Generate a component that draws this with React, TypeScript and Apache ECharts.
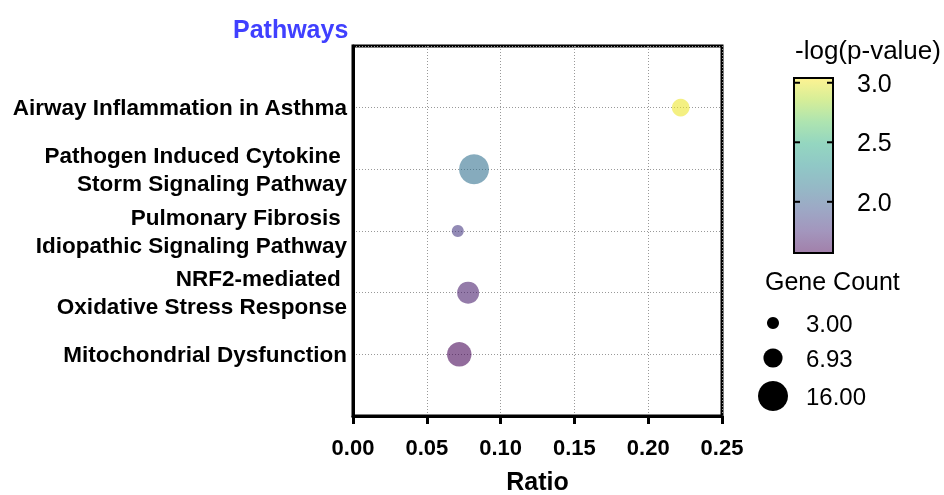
import React, { useEffect, useRef } from "react";
import * as echarts from "echarts";

const categories = [
  "Airway Inflammation in Asthma",
  "Pathogen Induced Cytokine \nStorm Signaling Pathway",
  "Pulmonary Fibrosis \nIdiopathic Signaling Pathway",
  "NRF2-mediated \nOxidative Stress Response",
  "Mitochondrial Dysfunction",
];
const ratios = [0.222, 0.082, 0.071, 0.078, 0.072];
const geneCounts = [6, 16, 3, 9, 11];
const negLogP = [3.0, 2.1, 1.8, 1.68, 1.57];

const legendCounts = [3, 6.93, 16];
const legendLabels = ["3.00", "6.93", "16.00"];
const colorTicks = [3.0, 2.5, 2.0];
const colorMin = 1.57;
const colorMax = 3.04;

const viridis = ["#440154", "#472d7b", "#3b528b", "#2c728e", "#21918c", "#28ae80", "#5ec962", "#addc30", "#fde725"];
const viridisPastel = ["#a280aa", "#a396bd", "#9da8c5", "#95b9c6", "#90c8c6", "#94d6c0", "#aee4b0", "#d6ee98", "#fef392"];

const FONT = "Liberation Sans, Arial, Helvetica, sans-serif";

const sizeOf = (c: number) => 7.94 * Math.sqrt(c) - 1.75;

export default function App() {
  const ref = useRef<HTMLDivElement>(null);
  useEffect(() => {
    document.body.style.margin = "0";
    if (!ref.current) return;
    const chart = echarts.init(ref.current, undefined, { renderer: "svg", width: 944, height: 495 });

    const barX = 794, barY = 78, barW = 39, barH = 175;
    const tickY = (v: number) => barY + ((colorMax - v) / (colorMax - colorMin)) * barH;

    const graphics: any[] = [];
    graphics.push({
      type: "text",
      left: 795,
      top: 37,
      style: { text: "-log(p-value)", font: `26px ${FONT}`, fill: "#000" },
    });
    graphics.push({
      type: "rect",
      shape: { x: barX, y: barY, width: barW, height: barH },
      style: {
        fill: new echarts.graphic.LinearGradient(0, 0, 0, 1,
          viridisPastel.slice().reverse().map((c, i) => ({ offset: i / (viridisPastel.length - 1), color: c }))),
        stroke: "#000",
        lineWidth: 2,
      },
    });
    colorTicks.forEach((v) => {
      const y = tickY(v);
      graphics.push({ type: "line", shape: { x1: barX, y1: y, x2: barX + 6, y2: y }, style: { stroke: "#000", lineWidth: 2 } });
      graphics.push({ type: "line", shape: { x1: barX + barW - 6, y1: y, x2: barX + barW, y2: y }, style: { stroke: "#000", lineWidth: 2 } });
      graphics.push({
        type: "text",
        x: 857,
        y: y,
        style: { text: v.toFixed(1), font: `25px ${FONT}`, fill: "#000", textVerticalAlign: "middle", verticalAlign: "middle" },
      });
    });
    graphics.push({
      type: "text",
      left: 765,
      top: 268,
      style: { text: "Gene Count", font: `25px ${FONT}`, fill: "#000" },
    });
    const legY = [323, 358, 396];
    legendCounts.forEach((c, i) => {
      graphics.push({ type: "circle", shape: { cx: 773, cy: legY[i], r: sizeOf(c) / 2 }, style: { fill: "#000" } });
      graphics.push({
        type: "text",
        x: 806,
        y: legY[i],
        style: { text: legendLabels[i], font: `24px ${FONT}`, fill: "#000", verticalAlign: "middle", textVerticalAlign: "middle" },
      });
    });

    chart.setOption({
      animation: false,
      title: {
        text: "Pathways",
        left: 228,
        top: 11,
        textStyle: { color: "#4040ff", fontSize: 25, fontWeight: "bold", fontFamily: FONT },
      },
      grid: {
        left: 353,
        top: 46,
        width: 369,
        height: 370,
        outerBoundsMode: "none",
        containLabel: false,
        show: true,
        borderColor: "#000",
        borderWidth: 3,
        backgroundColor: "transparent",
      },
      xAxis: {
        type: "value",
        min: 0,
        max: 0.25,
        interval: 0.05,
        position: "bottom",
        name: "Ratio",
        nameLocation: "middle",
        nameGap: 52,
        nameTextStyle: { fontSize: 25, fontWeight: "bold", color: "#000", fontFamily: FONT },
        axisLine: { show: true, onZero: false, lineStyle: { color: "#000", width: 3 } },
        axisTick: { show: true, length: 8, lineStyle: { color: "#000", width: 3 } },
        axisLabel: {
          formatter: (v: number) => v.toFixed(2),
          fontSize: 22,
          fontWeight: "bold",
          color: "#000",
          fontFamily: FONT,
          margin: 20,
        },
        splitLine: { show: true, lineStyle: { color: "#999", width: 1, type: [1, 2] } },
      },
      yAxis: {
        type: "value",
        min: 0,
        max: 6,
        interval: 1,
        inverse: true,
        axisLine: { show: true, onZero: false, lineStyle: { color: "#000", width: 3 } },
        axisTick: { show: false },
        axisLabel: {
          formatter: (v: number) => categories[v - 1] ?? "",
          fontSize: 22.5,
          fontWeight: "bold",
          color: "#000",
          fontFamily: FONT,
          lineHeight: 28,
          margin: 6,
          align: "right",
        },
        splitLine: { show: true, lineStyle: { color: "#999", width: 1, type: [1, 2] } },
      },
      visualMap: {
        show: false,
        type: "continuous",
        dimension: 3,
        min: colorMin,
        max: colorMax,
        seriesIndex: 0,
        inRange: { color: viridis },
      },
      series: [
        {
          type: "scatter",
          data: ratios.map((r, i) => [r, i + 1, geneCounts[i], negLogP[i]]),
          symbolSize: (d: number[]) => sizeOf(d[2]),
          itemStyle: { opacity: 0.58 },
        },
      ],
      graphic: graphics,
    });
    return () => chart.dispose();
  }, []);
  return <div ref={ref} style={{ position: "fixed", left: 0, top: 0, width: 944, height: 495 }} />;
}
